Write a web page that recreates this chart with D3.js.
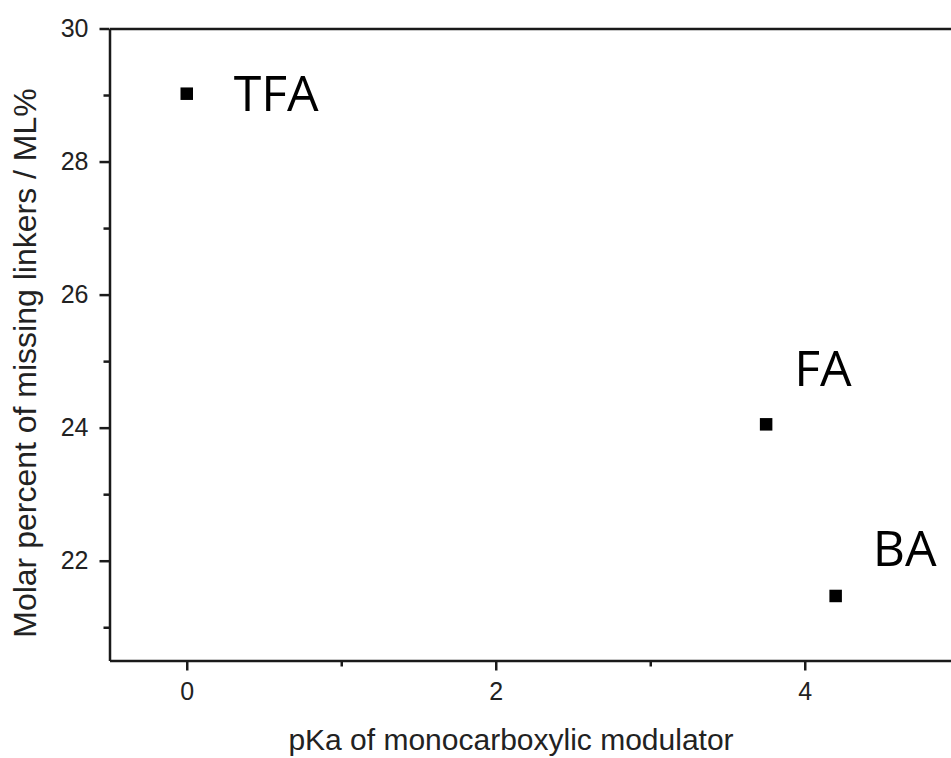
<!DOCTYPE html>
<html>
<head>
<meta charset="utf-8">
<script src="https://cdn.jsdelivr.net/npm/d3@7/dist/d3.min.js"></script>
<style>
  html, body { margin: 0; padding: 0; background: #fff; }
  svg { display: block; }
  .axis path, .axis line { stroke: #1a1a1a; stroke-width: 2.5; }
  .axis text { font-family: "Liberation Sans", Arial, sans-serif; font-size: 25px; fill: #222; }
</style>
</head>
<body>
<svg id="chart" width="951" height="758"></svg>
<script>
// Modulators and their pKa vs. missing-linker content
const modulators = ["TFA", "FA", "BA"];
const pKa = [0, 3.75, 4.2];
const missingLinkers = [29.02, 24.05, 21.47];

// Axis ticks
const xMajorTicks = [0, 2, 4];
const xMinorTicks = [1, 3, 5];
const yMajorTicks = [22, 24, 26, 28, 30];
const yMinorTicks = [21, 23, 25, 27, 29];

// Label placement relative to each marker (dx, dy in px)
const labelOffsets = [[47, 17], [28, -38], [37, -30]];

const svg = d3.select("#chart");

const x = d3.scaleLinear().domain([-0.5, 5]).range([109.5, 959.25]);
const y = d3.scaleLinear().domain([20.5, 30]).range([660.5, 28.5]);

// bottom axis
svg.append("g").attr("class", "axis")
  .attr("transform", `translate(0,${y(20.5)})`)
  .call(d3.axisBottom(x).tickValues(xMajorTicks).tickSize(10).tickSizeOuter(0).tickPadding(12).tickFormat(d3.format("d")));
svg.append("g").attr("class", "axis")
  .attr("transform", `translate(0,${y(20.5)})`)
  .call(d3.axisBottom(x).tickValues(xMinorTicks).tickSize(6).tickSizeOuter(0).tickFormat(""))
  .call(g => g.select(".domain").remove());

// left axis
svg.append("g").attr("class", "axis")
  .attr("transform", `translate(${x(-0.5)},0)`)
  .call(d3.axisLeft(y).tickValues(yMajorTicks).tickSize(10).tickSizeOuter(0).tickPadding(11).tickFormat(d3.format("d")));
svg.append("g").attr("class", "axis")
  .attr("transform", `translate(${x(-0.5)},0)`)
  .call(d3.axisLeft(y).tickValues(yMinorTicks).tickSize(6).tickSizeOuter(0).tickFormat(""))
  .call(g => g.select(".domain").remove());

// top frame line
svg.append("g").attr("class", "axis")
  .attr("transform", `translate(0,${y(30)})`)
  .call(d3.axisTop(x).tickValues([]).tickSizeOuter(0));

// axis titles
svg.append("text")
  .attr("x", 511).attr("y", 750)
  .attr("text-anchor", "middle")
  .style("font-family", "'Liberation Sans', Arial, sans-serif")
  .style("font-size", "30px").style("fill", "#222")
  .text("pKa of monocarboxylic modulator");

svg.append("text")
  .attr("transform", "translate(36,363) rotate(-90)")
  .attr("text-anchor", "middle")
  .style("font-family", "'Liberation Sans', Arial, sans-serif")
  .style("font-size", "32px").style("fill", "#222")
  .text("Molar percent of missing linkers / ML%");

// data points
const points = modulators.map((m, i) => ({ name: m, x: pKa[i], y: missingLinkers[i], off: labelOffsets[i] }));
const size = 12.5;

svg.append("g").selectAll("rect").data(points).join("rect")
  .attr("x", d => x(d.x) - size / 2)
  .attr("y", d => y(d.y) - size / 2)
  .attr("width", size).attr("height", size)
  .attr("fill", "#000");

svg.append("g").selectAll("text").data(points).join("text")
  .attr("x", d => x(d.x) + d.off[0])
  .attr("y", d => y(d.y) + d.off[1])
  .style("font-family", "'Open Sans', sans-serif")
  .style("font-size", "50px").style("fill", "#000")
  .text(d => d.name);
</script>
</body>
</html>
